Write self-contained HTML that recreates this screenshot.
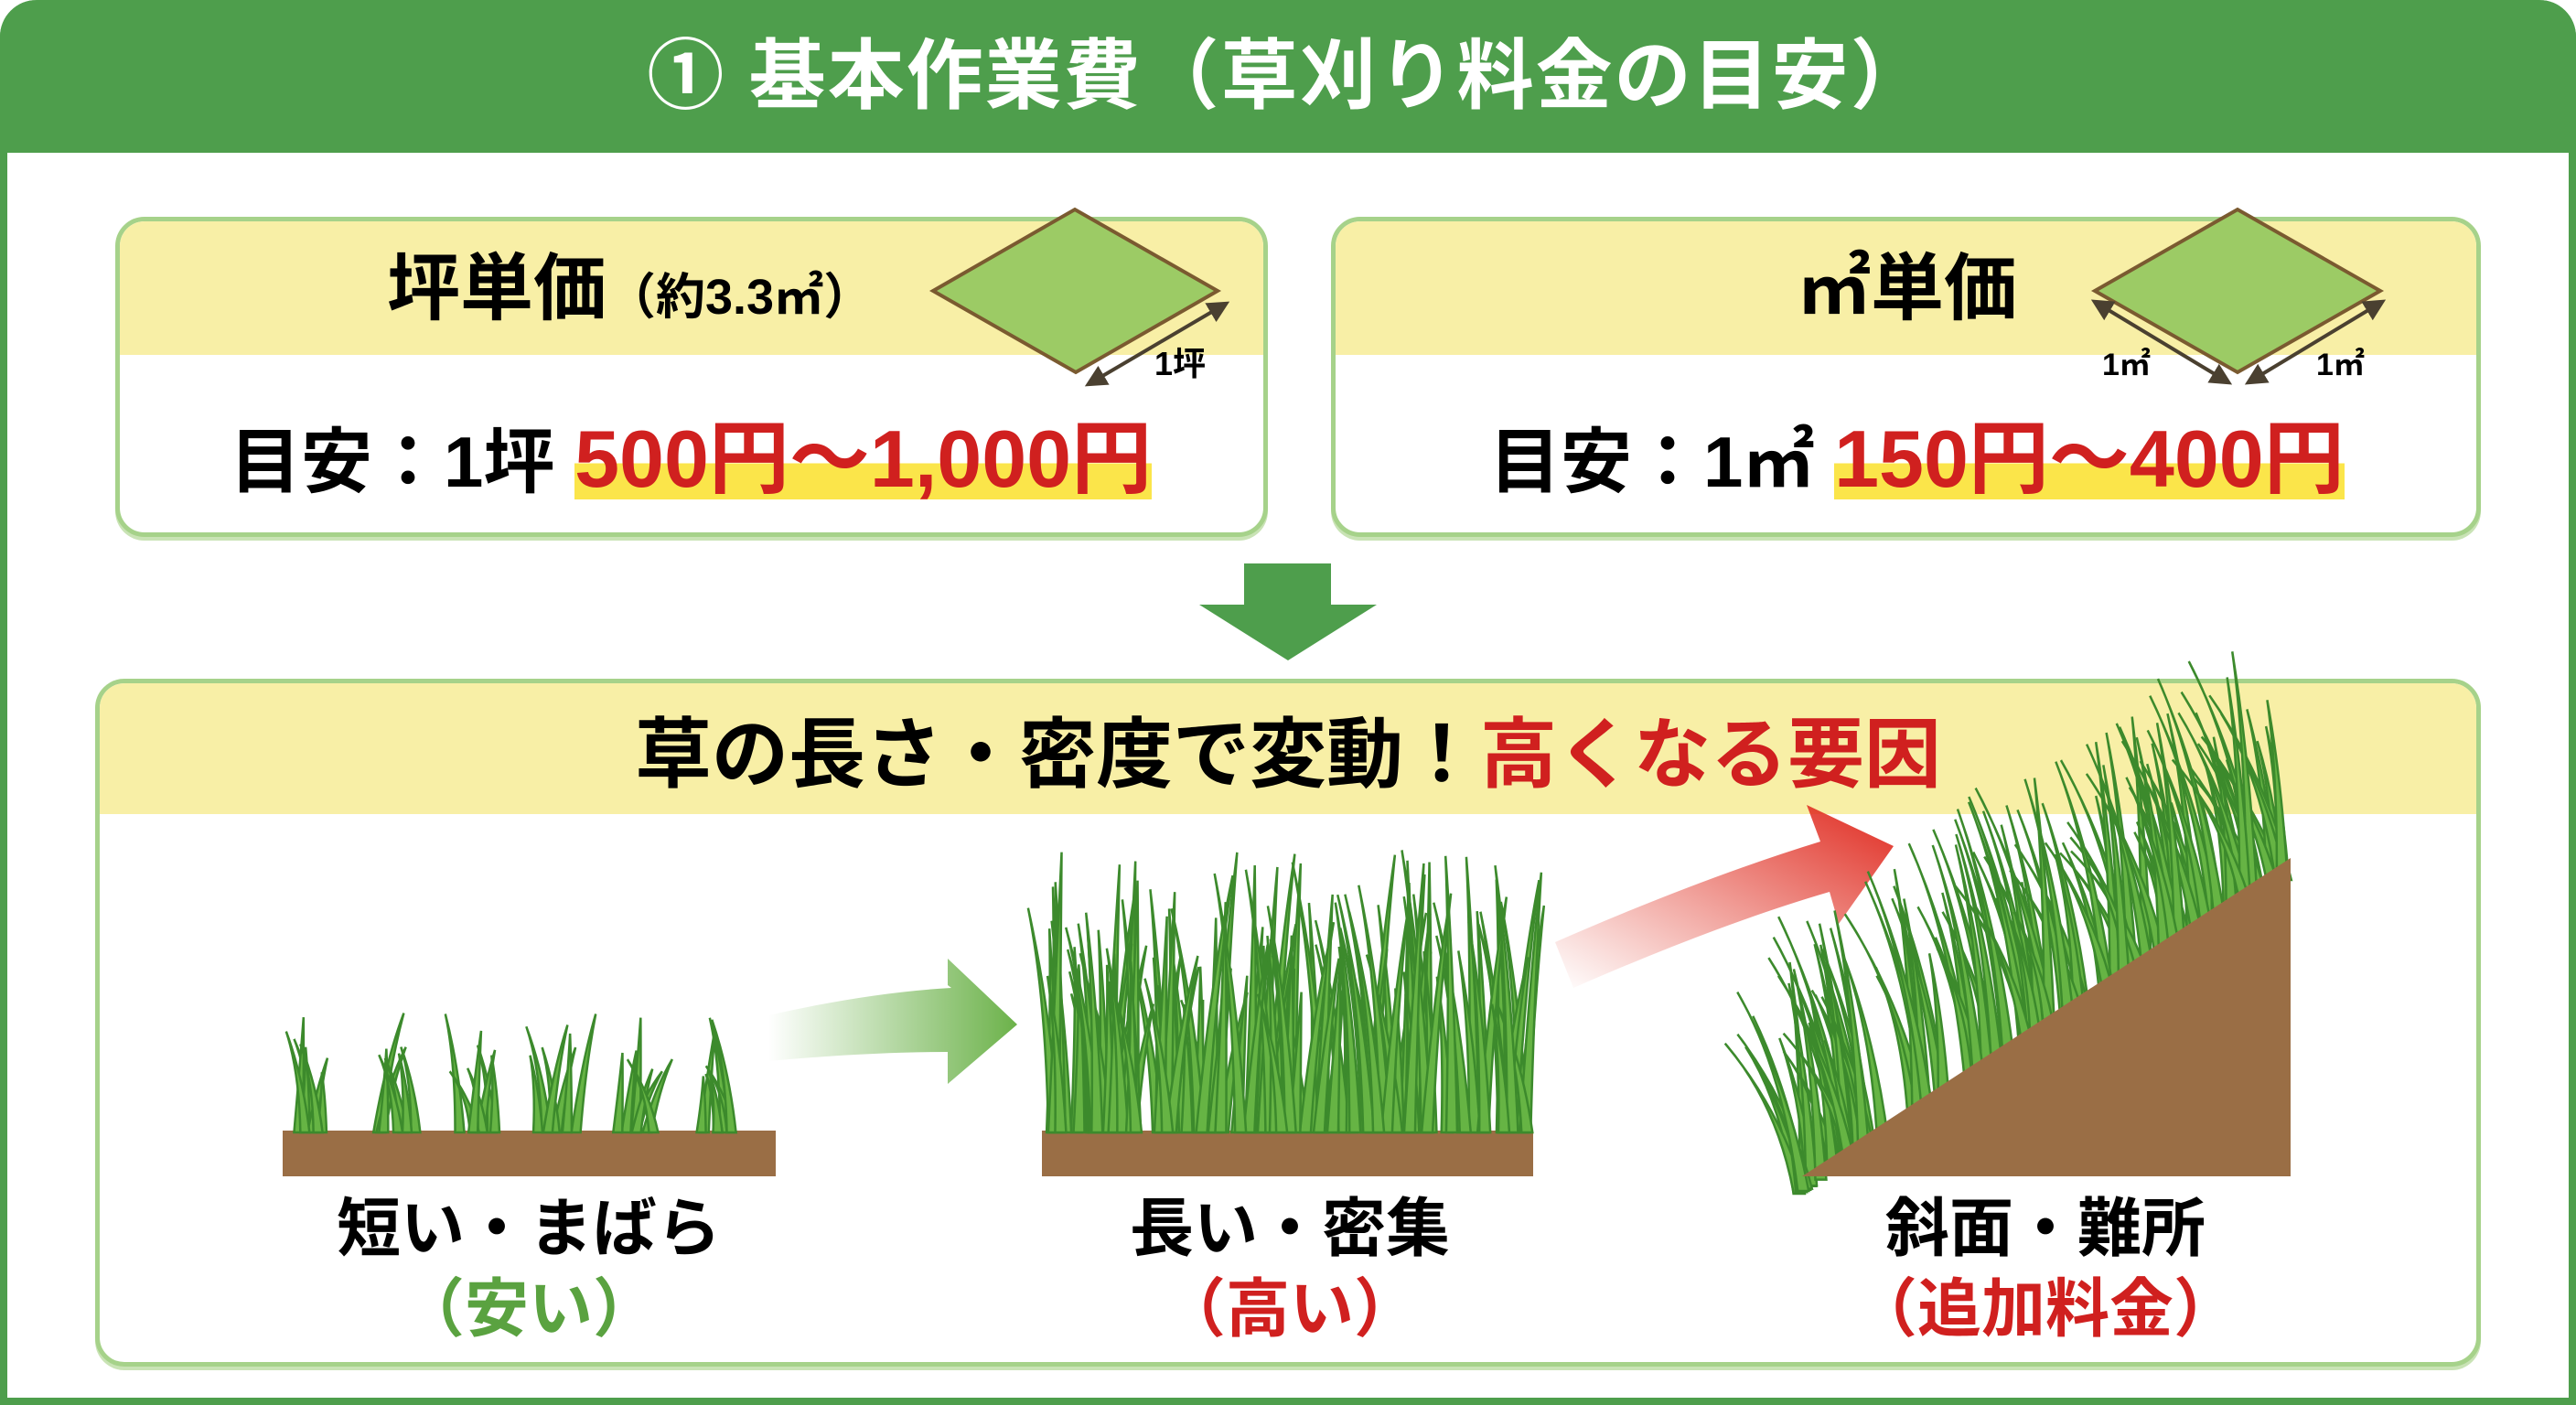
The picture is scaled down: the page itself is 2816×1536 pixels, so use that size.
<!DOCTYPE html>
<html><head><meta charset="utf-8"><style>
*{margin:0;padding:0;box-sizing:border-box}
body{width:2816px;height:1536px;background:#fff;position:relative;overflow:hidden;font-family:"Liberation Sans","Noto Sans CJK JP",sans-serif;font-weight:bold}
.frame{position:absolute;left:0;top:0;width:2816px;height:1536px;border:8px solid #4e9e4c;border-top:none;border-radius:40px 40px 0 0}
.head{position:absolute;left:0;top:0;width:2816px;height:167px;background:#4e9e4c;border-radius:40px 40px 0 0;color:#fff;font-size:84px;text-align:center;line-height:167px;letter-spacing:2px}
.card{position:absolute;border:5px solid #a6d28a;border-radius:32px;overflow:hidden;background:#fff;box-shadow:0 4px 0 #c9e3b5}
.yh{position:absolute;left:0;top:0;right:0;background:#f8efa6}
.t{position:absolute;white-space:nowrap;line-height:1}
.red{color:#d0201f}
.hl{background:linear-gradient(to bottom,transparent 55%,#fbe54a 55%,#fbe54a 95%,transparent 95%)}
svg{position:absolute;left:0;top:0}
</style></head><body>
<div class="frame"></div>
<div class="head">① 基本作業費（草刈り料金の目安）</div>

<div class="card" style="left:126px;top:237px;width:1260px;height:350px">
 <div class="yh" style="height:146px"></div>
 <div class="t" style="left:292px;top:34px;font-size:80px">坪単価<span style="font-size:54px">（約3.3㎡）</span></div>
 <div class="t" style="left:120px;top:216px;font-size:78px">目安：1坪 <span class="red hl" style="font-size:88px">500円〜1,000円</span></div>
</div>
<div class="card" style="left:1455px;top:237px;width:1257px;height:350px">
 <div class="yh" style="height:146px"></div>
 <div class="t" style="left:505px;top:34px;font-size:80px">㎡単価</div>
 <div class="t" style="left:168px;top:216px;font-size:78px">目安：1㎡ <span class="red hl" style="font-size:88px">150円〜400円</span></div>
</div>

<div class="card" style="left:104px;top:742px;width:2608px;height:752px">
 <div class="yh" style="height:143px"></div>
 <div class="t" style="left:0;right:0;text-align:center;top:36px;font-size:84px">草の長さ・密度で変動！<span class="red">高くなる要因</span></div>
</div>

<svg width="2816" height="1536" viewBox="0 0 2816 1536">
<defs>
<marker id="ah" viewBox="0 0 10 10" refX="8" refY="5" markerWidth="6" markerHeight="6" orient="auto-start-reverse"><path d="M0,0L10,5L0,10z" fill="#4a4030"/></marker>
<linearGradient id="gg" x1="0" x2="1"><stop offset="0" stop-color="#6cb24a" stop-opacity="0"/><stop offset="1" stop-color="#6cb24a"/></linearGradient>
<linearGradient id="rg" x1="0" x2="1" y1="1" y2="0"><stop offset="0" stop-color="#e03a2a" stop-opacity="0"/><stop offset="1" stop-color="#e02a20"/></linearGradient>
</defs>
<polygon points="1020,318 1175,229 1331,318 1176,407" fill="#9ccb65" stroke="#7a5a30" stroke-width="4"/>
<line x1="1190" y1="420" x2="1340" y2="332" stroke="#4a4030" stroke-width="4" marker-start="url(#ah)" marker-end="url(#ah)"/>
<text x="1262" y="410" font-size="36" font-weight="bold" font-family="Liberation Sans,Noto Sans CJK JP,sans-serif">1坪</text>
<polygon points="2290,318 2446,229 2602,318 2446,407" fill="#9ccb65" stroke="#7a5a30" stroke-width="4"/>
<line x1="2290" y1="330" x2="2436" y2="418" stroke="#4a4030" stroke-width="4" marker-start="url(#ah)" marker-end="url(#ah)"/>
<line x1="2458" y1="418" x2="2604" y2="330" stroke="#4a4030" stroke-width="4" marker-start="url(#ah)" marker-end="url(#ah)"/>
<text x="2298" y="410" font-size="34" font-weight="bold" font-family="Liberation Sans,Noto Sans CJK JP,sans-serif">1㎡</text>
<text x="2532" y="410" font-size="34" font-weight="bold" font-family="Liberation Sans,Noto Sans CJK JP,sans-serif">1㎡</text>
<polygon points="1360,616 1455,616 1455,661 1505,661 1408,722 1311,661 1360,661" fill="#4e9e4c"/>
<path d="M840,1110 Q950,1085 1040,1080 L1036,1077 L1036,1048 L1112,1120 L1036,1185 L1036,1150 Q950,1150 840,1160 Z" fill="url(#gg)"/>
<path d="M1700,1030 Q1860,960 1990,920 L1975,880 L2070,925 L2010,1010 L2000,975 Q1880,1010 1720,1080 Z" fill="url(#rg)"/>
<rect x="309" y="1236" width="539" height="50" fill="#9a6e45"/>
<rect x="1139" y="1236" width="537" height="50" fill="#9a6e45"/>
<g id="grass" fill="#66b444" stroke="#3c8a2c" stroke-width="2.5"></g>
<g id="grass2" fill="#66b444" stroke="#3c8a2c" stroke-width="2.5"></g>
<polygon points="1970,1286 2504,1286 2504,938" fill="#9a6e45"/>
</svg>

<div class="t" style="left:0;width:1156px;text-align:center;top:1308px;font-size:70px">短い・まばら</div>
<div class="t" style="left:0;width:1156px;text-align:center;top:1396px;font-size:70px;color:#5aa240">（安い）</div>
<div class="t" style="left:1010px;width:800px;text-align:center;top:1308px;font-size:70px">長い・密集</div>
<div class="t" style="left:1010px;width:800px;text-align:center;top:1396px;font-size:70px;color:#d0201f">（高い）</div>
<div class="t" style="left:1836px;width:800px;text-align:center;top:1308px;font-size:70px">斜面・難所</div>
<div class="t" style="left:1836px;width:800px;text-align:center;top:1396px;font-size:70px;color:#d0201f">（追加料金）</div>

<script>
var s=7;function r(){s=(s*9301+49297)%233280;return s/233280;}
function blade(x,y,h,lean,w){return '<path d="M'+(x-w/2)+','+y+' Q'+(x+lean*0.3)+','+(y-h*0.6)+' '+(x+lean)+','+(y-h)+' Q'+(x+lean*0.3+w*0.4)+','+(y-h*0.55)+' '+(x+w/2)+','+y+'Z"/>';}
var g='';
for(var c=0;c<6;c++){var cx=345+c*88;for(var k=0;k<7;k++){g+=blade(cx+(r()-0.5)*44,1238,60+r()*75,(r()-0.5)*60,10);}}
for(var i=0;i<150;i++){var x=1150+r()*520;g+=blade(x,1238,140+r()*170,(r()-0.5)*70,12);}
document.getElementById('grass').innerHTML=g;
var g2='';
for(var i=0;i<130;i++){var t=r();var x=1965+t*540,y=1286-t*348;g2+=blade(x,y+20,130+r()*150,-(15+r()*70),12);}
document.getElementById('grass2').innerHTML=g2;
</script>
</body></html>
